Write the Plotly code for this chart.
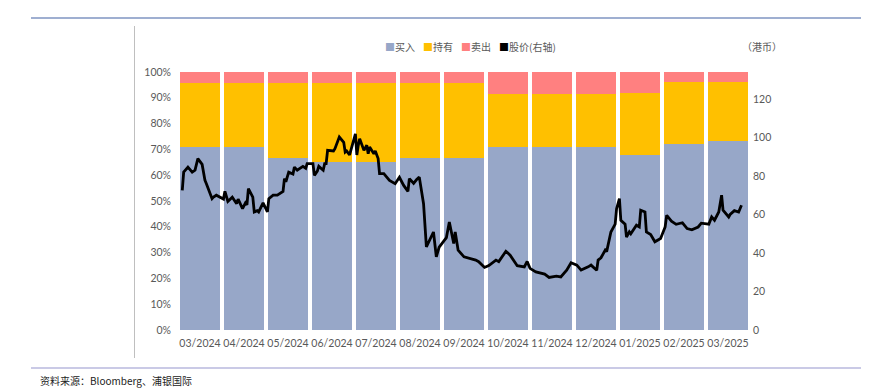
import calendar
import plotly.graph_objects as go

months = ["03/2024", "04/2024", "05/2024", "06/2024", "07/2024", "08/2024", "09/2024",
          "10/2024", "11/2024", "12/2024", "01/2025", "02/2025", "03/2025"]
buy_pct = [70.8, 70.8, 66.7, 65.2, 65.2, 66.7, 66.7, 70.8, 70.8, 70.8, 68.0, 72.0, 73.1]
hold_pct = [25.0, 25.0, 29.2, 30.4, 30.4, 29.2, 29.2, 20.8, 20.8, 20.8, 24.0, 24.0, 23.1]
sell_pct = [4.2, 4.2, 4.1, 4.4, 4.4, 4.1, 4.1, 8.4, 8.4, 8.4, 8.0, 4.0, 3.8]

price_dates = [
    "2024-03-04", "2024-03-05", "2024-03-08", "2024-03-11", "2024-03-13", "2024-03-15", "2024-03-18",
    "2024-03-20", "2024-03-21", "2024-03-25", "2024-03-26", "2024-03-28", "2024-04-02", "2024-04-03",
    "2024-04-05", "2024-04-08", "2024-04-11", "2024-04-12", "2024-04-15", "2024-04-17", "2024-04-18",
    "2024-04-19", "2024-04-22", "2024-04-23", "2024-04-25", "2024-04-26", "2024-04-29", "2024-05-02",
    "2024-05-03", "2024-05-06", "2024-05-09", "2024-05-13", "2024-05-14", "2024-05-15", "2024-05-17",
    "2024-05-20", "2024-05-21", "2024-05-23", "2024-05-27", "2024-05-29", "2024-05-30", "2024-06-03",
    "2024-06-04", "2024-06-06", "2024-06-07", "2024-06-10", "2024-06-11", "2024-06-12", "2024-06-13",
    "2024-06-17", "2024-06-18", "2024-06-21", "2024-06-24", "2024-06-25", "2024-06-26", "2024-06-28",
    "2024-07-02", "2024-07-03", "2024-07-04", "2024-07-05", "2024-07-08", "2024-07-10", "2024-07-11",
    "2024-07-12", "2024-07-15", "2024-07-16", "2024-07-18", "2024-07-19", "2024-07-22", "2024-07-24",
    "2024-07-26", "2024-07-30", "2024-08-02", "2024-08-05", "2024-08-08", "2024-08-09", "2024-08-12",
    "2024-08-14", "2024-08-16", "2024-08-19", "2024-08-20", "2024-08-21", "2024-08-26", "2024-08-28",
    "2024-08-30", "2024-09-03", "2024-09-04", "2024-09-06", "2024-09-09", "2024-09-10", "2024-09-12",
    "2024-09-16", "2024-09-19", "2024-09-24", "2024-09-26", "2024-09-30", "2024-10-03", "2024-10-08",
    "2024-10-10", "2024-10-15", "2024-10-18", "2024-10-23", "2024-10-28", "2024-10-30", "2024-11-01",
    "2024-11-05", "2024-11-11", "2024-11-14", "2024-11-19", "2024-11-22", "2024-11-26", "2024-11-29",
    "2024-12-03", "2024-12-06", "2024-12-11", "2024-12-13", "2024-12-17", "2024-12-18", "2024-12-20",
    "2024-12-23", "2024-12-24", "2024-12-27", "2024-12-30", "2024-12-31", "2025-01-02", "2025-01-03",
    "2025-01-06", "2025-01-07", "2025-01-09", "2025-01-10", "2025-01-14", "2025-01-16", "2025-01-17",
    "2025-01-20", "2025-01-21", "2025-01-24", "2025-01-27", "2025-01-31", "2025-02-03", "2025-02-04",
    "2025-02-07", "2025-02-10", "2025-02-14", "2025-02-17", "2025-02-20", "2025-02-24", "2025-02-26",
    "2025-03-03", "2025-03-05", "2025-03-07", "2025-03-10", "2025-03-12", "2025-03-13", "2025-03-17",
    "2025-03-18", "2025-03-21", "2025-03-24", "2025-03-26",
]
price_values = [
    72.5, 82, 84.6, 82, 83, 89, 86,
    77.7, 76, 68.2, 69, 70, 68, 72,
    66.8, 69, 65.6, 68, 63, 66, 65,
    73.4, 69, 61.3, 62, 61.3, 66, 61.3,
    68.2, 70, 70, 72, 78.6, 77, 82,
    81, 84.6, 83, 85, 84, 86.4, 86.4,
    80.3, 82.5, 85, 83, 86.4, 86.4, 93.3,
    93, 94.2, 100.2, 97.5, 92.4, 93, 90.9,
    101.9, 90.9, 95.9, 99.3, 93.3, 96, 91.5,
    95, 91.5, 93, 89, 81.2, 81.2, 79.5,
    77.7, 76, 79.3, 75.1, 72, 78.6, 76.2,
    78, 79.4, 65.6, 54.4, 43.2, 50.9, 38,
    43, 47.5, 48, 56.1, 44.9, 50.9, 41.5,
    38, 37.5, 36.3, 35.5, 32.5, 33.5, 36.3,
    35.5, 40.9, 38.9, 33.4, 32.8, 35.6, 32,
    30.2, 29, 27.3, 28, 27.6, 31.1, 34.9,
    33.7, 31.1, 32.8, 33.7, 31, 36.3, 37.5,
    41.5, 40.7, 50.9, 55, 63, 68.2, 57,
    55, 48.3, 51, 50, 54.4, 53.5, 62.2,
    61.3, 50.9, 49.6, 45.8, 47.5, 53.5, 59.6,
    56.5, 54.9, 55.7, 52.7, 52, 53.5, 55.5,
    55, 58.7, 57, 61.3, 70, 62.2, 58.7,
    60, 62, 61.3, 64.8,
]

legend_names = ["买入", "持有", "卖出", "股价(右轴)"]
unit_label = "（港币）"
source_text = "资料来源：Bloomberg、浦银国际"

C_BUY = "#97A7C8"
C_HOLD = "#FFC000"
C_SELL = "#FF8080"
C_PRICE = "#000000"


def month_pos(d):
    y, m, day = (int(p) for p in d.split("-"))
    k = (y - 2024) * 12 + (m - 3)
    ndays = calendar.monthrange(y, m)[1]
    return k + (day - 1) / ndays - 0.5


price_x = [month_pos(d) for d in price_dates]

fig = go.Figure()
fig.add_trace(go.Bar(x=months, y=buy_pct, name=legend_names[0], marker_color=C_BUY, marker_line_width=0))
fig.add_trace(go.Bar(x=months, y=hold_pct, name=legend_names[1], marker_color=C_HOLD, marker_line_width=0))
fig.add_trace(go.Bar(x=months, y=sell_pct, name=legend_names[2], marker_color=C_SELL, marker_line_width=0))
fig.add_trace(go.Scatter(x=price_x, y=price_values, name=legend_names[3], mode="lines",
                         line=dict(color=C_PRICE, width=2.8), xaxis="x2", yaxis="y2"))

# page body has an 8px default margin; the figure is laid out in page pixels minus that offset
OFF = 8
PAGE_W, PAGE_H = 869, 389
W, H = PAGE_W - OFF, PAGE_H - OFF
PL, PR, PT, PB = 178, 750, 72, 330  # plot area edges in page pixels
L, T = PL - OFF, PT - OFF
R, B = W - (PR - OFF), H - (PB - OFF)
pw, ph = PR - PL, PB - PT


def px_x(p):
    return (p - PL) / pw


def px_y(p):
    return (PB - p) / ph


tick_font = dict(family="Lato, 'Noto Sans CJK SC', sans-serif", size=10.5, color="#595959")
cjk_font = dict(family="'Noto Sans CJK SC', sans-serif", size=10, color="#595959")

fig.update_layout(
    width=W, height=H,
    margin=dict(l=L, r=R, t=T, b=B),
    paper_bgcolor="white", plot_bgcolor="white",
    barmode="stack", bargap=0.09,
    showlegend=False,
    xaxis=dict(type="category", range=[-0.5, 12.5], showgrid=False, showline=False, ticks="",
               tickfont=tick_font, zeroline=False, ticklabelstandoff=5),
    xaxis2=dict(overlaying="x", range=[-0.5, 12.5], visible=False),
    yaxis=dict(range=[0, 100], dtick=10, ticksuffix="%", showgrid=False, showline=False,
               ticks="", tickfont=tick_font, zeroline=False, ticklabelstandoff=6),
    yaxis2=dict(overlaying="y", side="right", range=[0, 134], tickvals=[0, 20, 40, 60, 80, 100, 120],
                showgrid=False, showline=False, ticks="", tickfont=tick_font, zeroline=False,
                ticklabelstandoff=2),
)

legend_x = [383, 421, 459, 497]
legend_colors = [C_BUY, C_HOLD, C_SELL, C_PRICE]
for xp, name, col in zip(legend_x, legend_names, legend_colors):
    fig.add_annotation(x=px_x(xp), y=px_y(46), xref="paper", yref="paper", xanchor="left", yanchor="middle",
                       showarrow=False, font=cjk_font,
                       text=f"<span style='color:{col}'>■</span>{name}")

fig.add_annotation(x=px_x(740), y=px_y(46), xref="paper", yref="paper", xanchor="left", yanchor="middle",
                   showarrow=False, font=cjk_font, text=unit_label)
fig.add_annotation(x=px_x(38), y=px_y(380), xref="paper", yref="paper", xanchor="left", yanchor="middle",
                   showarrow=False, font=dict(family="'Noto Sans CJK SC', sans-serif", size=10, color="#222222"),
                   text=source_text)

fig.add_shape(type="line", xref="paper", yref="paper", x0=px_x(31), x1=px_x(868), y0=px_y(18), y1=px_y(18),
              line=dict(color="#7F95C2", width=1.5))
fig.add_shape(type="line", xref="paper", yref="paper", x0=px_x(31), x1=px_x(868), y0=px_y(368), y1=px_y(368),
              line=dict(color="#B8B8DE", width=1.5))
fig.add_shape(type="line", xref="paper", yref="paper", x0=px_x(134.5), x1=px_x(134.5), y0=px_y(26), y1=px_y(358),
              line=dict(color="#BFBFBF", width=1))

fig.write_html("out.html")
